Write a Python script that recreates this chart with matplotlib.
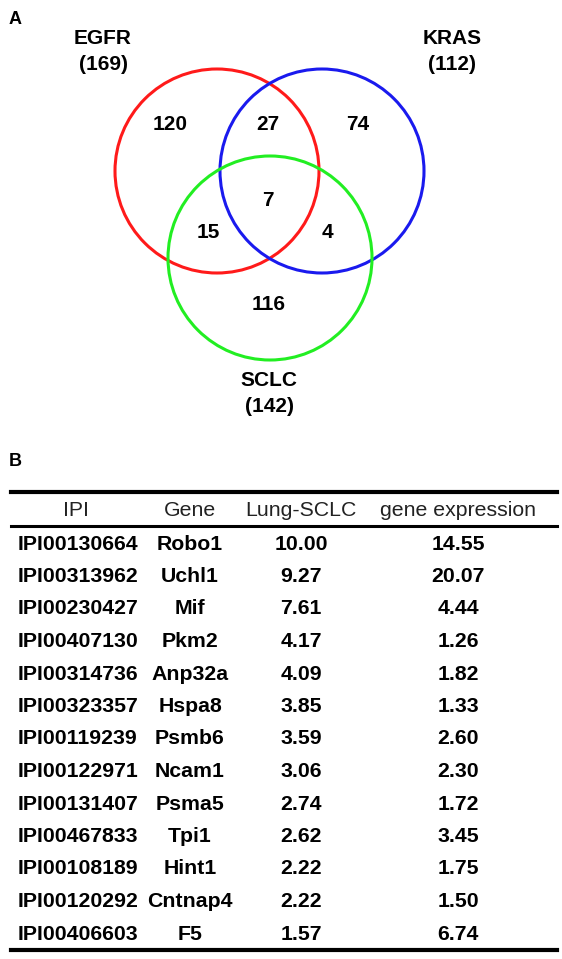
import matplotlib
matplotlib.use("Agg")
import matplotlib.pyplot as plt
from matplotlib.patches import Circle

plt.rcParams['font.family'] = ['Liberation Sans', 'DejaVu Sans']

sets = ["EGFR", "KRAS", "SCLC"]
set_totals = [169, 112, 142]
set_colors = ["#ff1a1a", "#1a1aee", "#22ee22"]
region_labels = ["120", "27", "74", "7", "15", "4", "116"]
ipi = ["IPI00130664", "IPI00313962", "IPI00230427", "IPI00407130", "IPI00314736",
       "IPI00323357", "IPI00119239", "IPI00122971", "IPI00131407", "IPI00467833",
       "IPI00108189", "IPI00120292", "IPI00406603"]
genes = ["Robo1", "Uchl1", "Mif", "Pkm2", "Anp32a", "Hspa8", "Psmb6", "Ncam1",
         "Psma5", "Tpi1", "Hint1", "Cntnap4", "F5"]
lung_sclc = ["10.00", "9.27", "7.61", "4.17", "4.09", "3.85", "3.59", "3.06",
             "2.74", "2.62", "2.22", "2.22", "1.57"]
gene_expr = ["14.55", "20.07", "4.44", "1.26", "1.82", "1.33", "2.60", "2.30",
             "1.72", "3.45", "1.75", "1.50", "6.74"]
headers = ["IPI", "Gene", "Lung-SCLC", "gene expression"]

fig = plt.figure(figsize=(5.62, 9.59), dpi=100)
ax = fig.add_axes([0, 0, 1, 1])
ax.set_xlim(0, 562)
ax.set_ylim(959, 0)
ax.axis('off')

# Panel A
ax.text(9, 20, "A", fontsize=13, fontweight='bold', va='center', ha='left')
centers = [(217, 171), (322, 171), (270, 258)]
for (cx, cy), c in zip(centers, set_colors):
    ax.add_patch(Circle((cx, cy), 102, fill=False, ec=c, lw=2.2))
label_pos = [(103, 38), (452, 38), (269, 380)]
for (x, y), n, t in zip(label_pos, sets, set_totals):
    ax.text(x, y, n, fontsize=15, fontweight='bold', ha='center', va='center')
    ax.text(x, y + 26, f"({t})", fontsize=15, fontweight='bold', ha='center', va='center')
region_pos = [(170, 124), (268, 124), (358, 124), (268, 200), (208, 232), (327, 232), (269, 304)]
for (x, y), t in zip(region_pos, region_labels):
    ax.text(x, y, t, fontsize=15, fontweight='bold', ha='center', va='center')

# Panel B
ax.text(9, 462, "B", fontsize=13, fontweight='bold', va='center', ha='left')
x0, x1 = 11, 557
ax.plot([x0, x1], [492, 492], color='black', lw=3)
ax.plot([x0, x1], [526, 526], color='black', lw=2.2)
ax.plot([x0, x1], [950, 950], color='black', lw=3)
col_x = [76, 190, 301, 458]
fs = 15.3
for x, h in zip(col_x, headers):
    ax.text(x, 511, h, fontsize=fs, ha='center', va='center', color='#222222')
y0, dy = 544, 32.5
for i in range(len(ipi)):
    y = y0 + i * dy
    ax.text(18, y, ipi[i], fontsize=fs, fontweight='bold', ha='left', va='center')
    ax.text(col_x[1], y, genes[i], fontsize=fs, fontweight='bold', ha='center', va='center')
    ax.text(col_x[2], y, lung_sclc[i], fontsize=fs, fontweight='bold', ha='center', va='center')
    ax.text(col_x[3], y, gene_expr[i], fontsize=fs, fontweight='bold', ha='center', va='center')

fig.savefig("out.png", dpi=100)
